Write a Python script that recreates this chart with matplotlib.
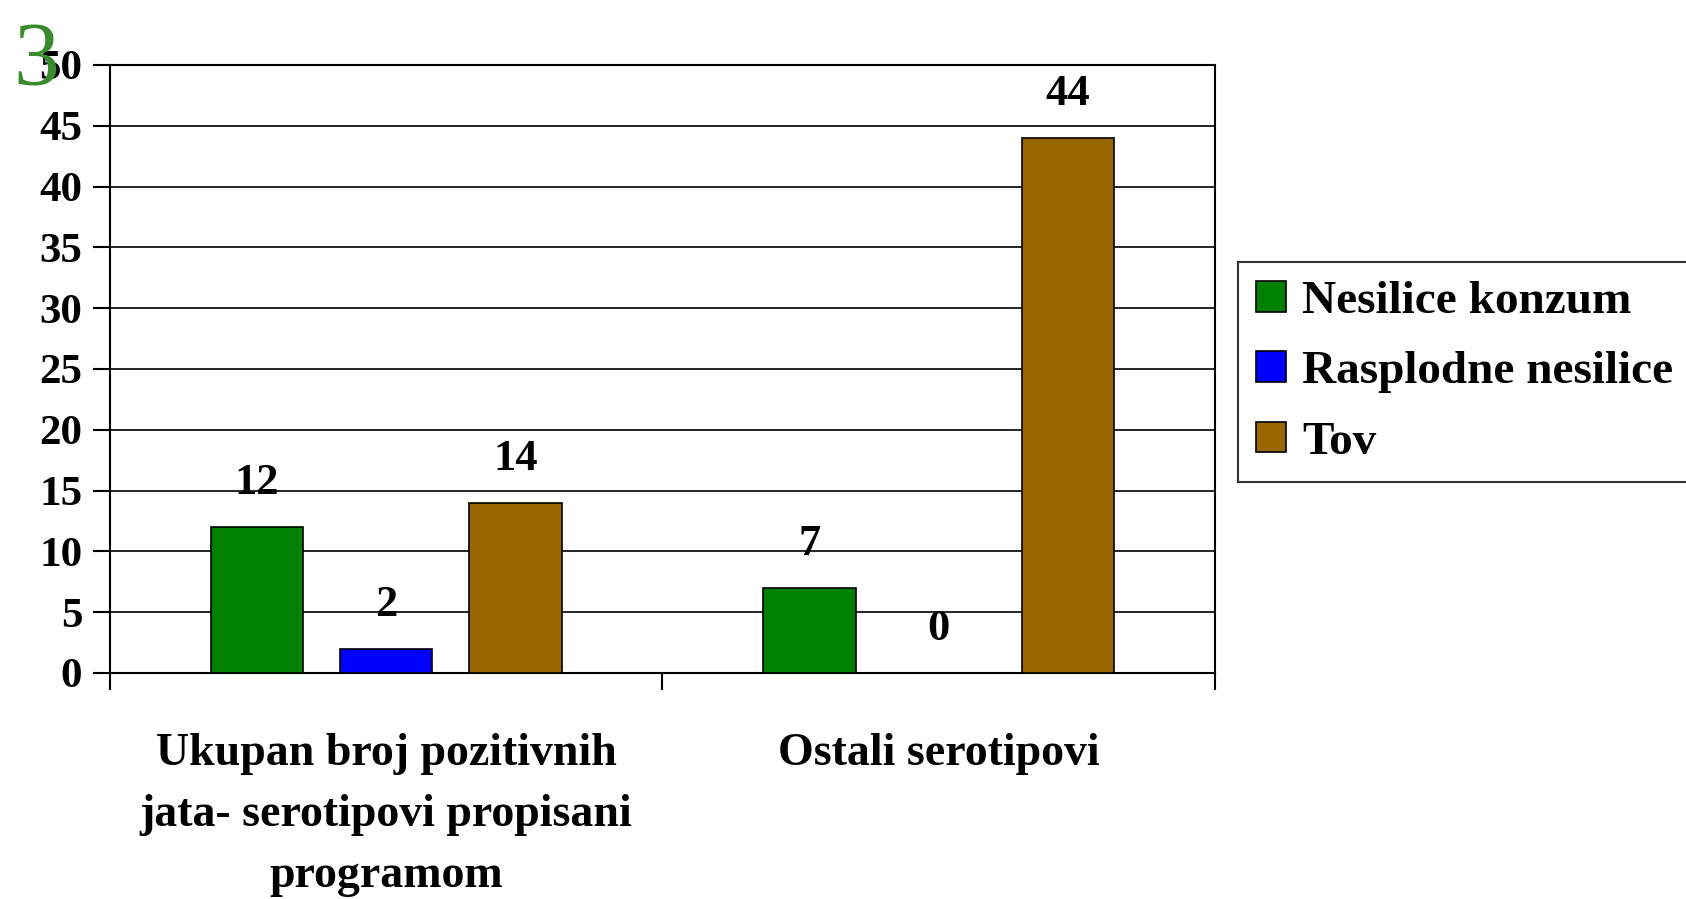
import numpy as np
import matplotlib.pyplot as plt
from matplotlib.ticker import FixedLocator, NullFormatter

plt.rcParams['font.family'] = ['Liberation Serif', 'DejaVu Serif']
plt.rcParams['font.weight'] = 'bold'

categories = ['Ukupan broj pozitivnih\njata- serotipovi propisani\nprogramom',
              'Ostali serotipovi']
series_names = ['Nesilice konzum', 'Rasplodne nesilice', 'Tov']
nesilice_konzum = [12, 7]
rasplodne_nesilice = [2, 0]
tov = [14, 44]
colors = ['#008000', '#0000FF', '#996600']

fig = plt.figure(figsize=(16.86, 8.99), dpi=100)
fig.patch.set_facecolor('white')
ax = fig.add_axes([0.0652, 0.2514, 0.6554, 0.6763])

x = np.arange(len(categories))
width = 0.167
step = 0.234
all_series = [nesilice_konzum, rasplodne_nesilice, tov]

handles = []
for i, (vals, name, c) in enumerate(zip(all_series, series_names, colors)):
    bars = ax.bar(x + (i - 1) * step, vals, width, color=c,
                  edgecolor='black', linewidth=1.2, zorder=3, label=name)
    handles.append(bars)
    for xi, v in zip(x + (i - 1) * step, vals):
        ax.text(xi, v + 3.6, f'{v}', ha='center', va='center',
                fontsize=32, fontweight='bold', zorder=4)

ax.set_xlim(-0.5, 1.5)
ax.set_ylim(0, 50)
ax.set_yticks(np.arange(0, 51, 5))
ax.grid(axis='y', color='black', linewidth=1.2, zorder=0)
ax.tick_params(axis='y', length=12, width=1.5, labelsize=31, pad=8)

ax.set_xticks(x)
ax.set_xticklabels(categories, fontsize=33, linespacing=1.6)
ax.tick_params(axis='x', which='major', length=0, pad=43)
ax.xaxis.set_minor_locator(FixedLocator([-0.5, 0.5, 1.5]))
ax.xaxis.set_minor_formatter(NullFormatter())
ax.tick_params(axis='x', which='minor', length=12, width=1.5)

for s in ax.spines.values():
    s.set_linewidth(1.5)
    s.set_color('black')

fig.legend(handles=handles, loc='upper left',
           bbox_to_anchor=(0.734, 0.7086), fontsize=34,
           frameon=True, fancybox=False, edgecolor='black',
           handlelength=0.62, handleheight=0.62, handletextpad=0.35,
           labelspacing=0.6, borderpad=0.4, borderaxespad=0)
fig.legends[0].get_frame().set_linewidth(1.5)

# slide number in the corner
fig.text(0.008, 0.9755, '3', color='#3A8A2E', fontsize=66,
         fontweight='normal', ha='left', va='top')

fig.savefig('out.png', dpi=100)
